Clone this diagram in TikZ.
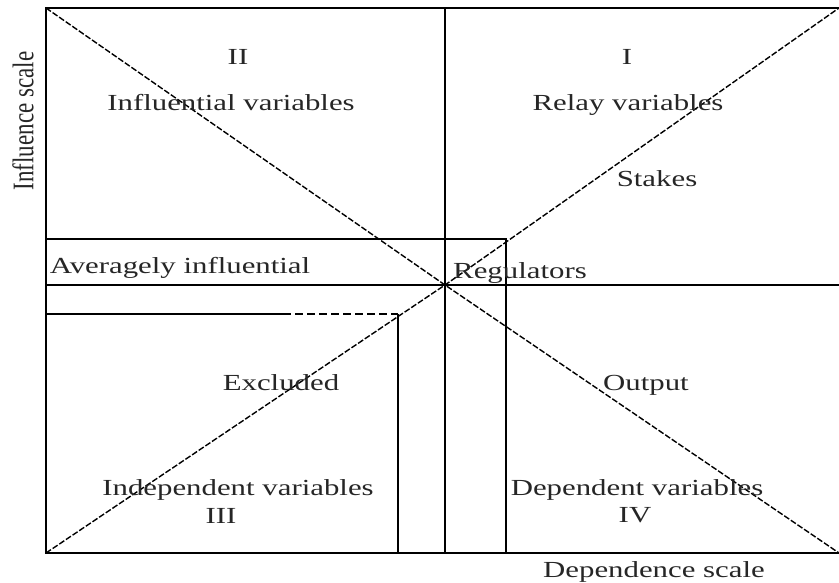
\documentclass[tikz,border=0pt]{standalone}
\usepackage{fontspec}
\newfontfamily\lblfont{Liberation Serif}[FakeStretch=1.34]
\newfontfamily\rotfont{Liberation Serif}
\begin{document}
\begin{tikzpicture}[x=1pt,y=-1pt,
  frame/.style={line width=2pt},
  rule/.style={line width=1.5pt},
  diag/.style={line width=1.4pt, dash pattern=on 6pt off 2pt},
  dashrule/.style={line width=1.5pt, dash pattern=on 8pt off 4pt},
  lbl/.style={font=\lblfont\fontsize{23}{26}\selectfont, text=black!85, inner sep=0pt, anchor=base}]
\useasboundingbox (0,0) rectangle (839,583);
% frame corners and centre
\coordinate (TL) at (46,8);
\coordinate (TR) at (839,8);
\coordinate (BL) at (46,553);
\coordinate (BR) at (839,553);
\coordinate (C) at (445,285);
\coordinate (Vt) at (445,8);
\coordinate (Vb) at (445,553);
\coordinate (Hl) at (46,285);
\coordinate (Hr) at (839,285);
\coordinate (Rl) at (46,239);
\coordinate (Rt) at (506,239);
\coordinate (Rb) at (506,553);
\coordinate (El) at (46,314);
\coordinate (Ed) at (283,314);
\coordinate (Et) at (398,314);
\coordinate (Eb) at (398,553);
% lines
\draw[frame] (TR) -- (TL) -- (BL) -- (BR);
\draw[rule] (Vt) -- (Vb);
\draw[rule] (Hl) -- (Hr);
\draw[rule] (Rl) -- (Rt) -- (Rb);
\draw[rule] (El) -- (Ed);
\draw[dashrule] (Ed) -- (Et);
\draw[rule] (Et) -- (Eb);
\draw[diag] (TL) -- (C) -- (BR);
\draw[diag] (BL) -- (C) -- (TR);
% labels
\node[lbl] (q2) at (238,65) {II};
\node[lbl] (infl) at (231,111) {Influential variables};
\node[lbl] (q1) at (627,65) {I};
\node[lbl] (relay) at (628,111) {Relay variables};
\node[lbl] (stakes) at (657,187) {Stakes};
\node[lbl] (avg) at (180,273) {Averagely influential};
\node[lbl] (reg) at (520,278) {Regulators};
\node[lbl] (excl) at (281,390) {Excluded};
\node[lbl] (out) at (646,390) {Output};
\node[lbl] (indep) at (238,495) {Independent variables};
\node[lbl] (q3) at (221,523) {III};
\node[lbl] (dep) at (637,495) {Dependent variables};
\node[lbl] (q4) at (635,522) {IV};
\node[lbl] (dscale) at (654,577) {Dependence scale};
\node[font=\rotfont\fontsize{23}{26}\selectfont, text=black!85, inner sep=0pt, rotate=90] (iscale) at (23,121) {\scalebox{1}[1.3]{Influence scale}};
\end{tikzpicture}
\end{document}
